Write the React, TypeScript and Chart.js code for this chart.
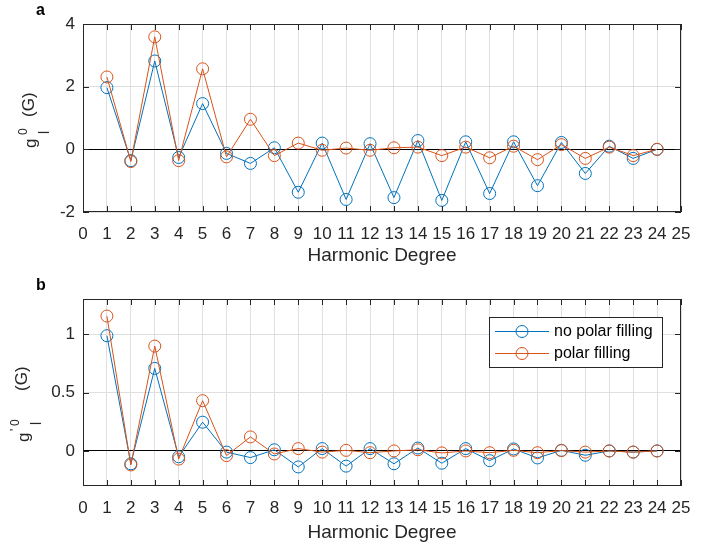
import React, { useEffect, useRef } from "react";
import { Chart, registerables } from "chart.js";

Chart.register(...registerables);

// ---------------- data ----------------
const degrees = [1, 2, 3, 4, 5, 6, 7, 8, 9, 10, 11, 12, 13, 14, 15, 16, 17, 18, 19, 20, 21, 22, 23, 24];

const seriesLabels = ["no polar filling", "polar filling"];

// panel a: g_l^0 (G)
const aNoPolar = [1.97, -0.36, 2.82, -0.26, 1.46, -0.13, -0.45, 0.05, -1.37, 0.2, -1.6, 0.18, -1.54, 0.28, -1.63, 0.24, -1.41, 0.24, -1.16, 0.22, -0.77, 0.1, -0.29, 0.0];
const aPolar = [2.31, -0.39, 3.59, -0.36, 2.57, -0.24, 0.96, -0.2, 0.2, -0.03, 0.04, -0.03, 0.05, 0.07, -0.2, 0.07, -0.27, 0.1, -0.33, 0.15, -0.29, 0.07, -0.2, 0.0];

// panel b: g'_l^0 (G)
const bNoPolar = [0.986, -0.11, 0.706, -0.05, 0.246, -0.01, -0.057, 0.01, -0.137, 0.02, -0.13, 0.02, -0.11, 0.025, -0.105, 0.02, -0.083, 0.017, -0.06, 0.005, -0.037, 0.0, -0.01, 0.0];
const bPolar = [1.154, -0.12, 0.897, -0.07, 0.43, -0.04, 0.12, -0.026, 0.02, -0.01, 0.005, -0.015, 0.0, 0.01, -0.017, 0.0, -0.015, 0.005, -0.015, 0.003, -0.01, 0.0, -0.01, 0.0];

const xRange = [0, 25];
const aYRange = [-2, 4];
const aYStep = 2;
const bYRange = [-0.3, 1.3];
const bYStep = 0.5;

const xTitle = "Harmonic Degree";
const panelLabels = ["a", "b"];

// ---------------- styles ----------------
const BLUE = "#0072BD";
const ORANGE = "#D95319";
const AXIS = "#262626";
const GRID = "#dfdfdf";
const FONT = "'Liberation Sans', Arial, Helvetica, sans-serif";

type Part = { text: string; size: number; offset: number; base: number };

function makeFramePlugin(cfg: {
  panel: string;
  titleParts: Part[];
  titleStartY: number;
  legend: boolean;
}) {
  return {
    id: "frame" + cfg.panel,
    afterDraw(chart: any) {
      const { ctx, chartArea } = chart;
      const { left, right, top, bottom } = chartArea;
      const xs = chart.scales.x;
      const ys = chart.scales.y;
      const TL = 6;
      ctx.save();
      ctx.strokeStyle = AXIS;
      ctx.lineWidth = 1;
      ctx.beginPath();
      xs.ticks.forEach((t: any) => {
        const px = Math.round(xs.getPixelForValue(t.value)) + 0.5;
        ctx.moveTo(px, bottom);
        ctx.lineTo(px, bottom - TL);
        ctx.moveTo(px, top);
        ctx.lineTo(px, top + TL);
      });
      ys.ticks.forEach((t: any) => {
        const py = Math.round(ys.getPixelForValue(t.value)) + 0.5;
        ctx.moveTo(left, py);
        ctx.lineTo(left + TL, py);
        ctx.moveTo(right, py);
        ctx.lineTo(right - TL, py);
      });
      ctx.stroke();
      ctx.strokeRect(Math.round(left) + 0.5, Math.round(top) + 0.5, Math.round(right - left) - 1, Math.round(bottom - top) - 1);

      // y-axis title with super/subscripts
      ctx.fillStyle = AXIS;
      ctx.textAlign = "left";
      ctx.textBaseline = "alphabetic";
      cfg.titleParts.forEach((p) => {
        ctx.save();
        ctx.translate(p.base, cfg.titleStartY - p.offset);
        ctx.rotate(-Math.PI / 2);
        ctx.font = `${p.size}px ${FONT}`;
        ctx.fillText(p.text, 0, 0);
        ctx.restore();
      });

      // panel label
      ctx.font = `bold 16px ${FONT}`;
      ctx.fillStyle = "#000";
      ctx.fillText(cfg.panel, 36, top - 9);

      // legend
      if (cfg.legend) {
        const bw = 173;
        const bh = 50;
        const bx = Math.round(right) - 19 - bw;
        const by = Math.round(top) + 18;
        ctx.fillStyle = "#fff";
        ctx.fillRect(bx, by, bw, bh);
        ctx.strokeStyle = AXIS;
        ctx.strokeRect(bx + 0.5, by + 0.5, bw, bh);
        const rows = [by + 14.5, by + 36.5];
        chart.data.datasets.forEach((ds: any, i: number) => {
          const ry = rows[i];
          ctx.strokeStyle = ds.borderColor;
          ctx.lineWidth = 1;
          ctx.beginPath();
          ctx.moveTo(bx + 6, ry);
          ctx.lineTo(bx + 60, ry);
          ctx.stroke();
          ctx.beginPath();
          ctx.arc(bx + 33, ry, 6, 0, Math.PI * 2);
          ctx.stroke();
          ctx.fillStyle = "#000";
          ctx.font = `16px ${FONT}`;
          ctx.textBaseline = "middle";
          ctx.fillText(ds.label, bx + 65, ry);
        });
      }
      ctx.restore();
    },
  };
}

function makeConfig(o: {
  noPolar: number[];
  polar: number[];
  yRange: number[];
  yStep: number;
  padTop: number;
  xAxisH: number;
  plugin: any;
}) {
  const tickFont = { family: FONT, size: 17 };
  const mk = (label: string, vals: number[], color: string, order: number) => ({
    label,
    data: degrees.map((d, i) => ({ x: d, y: vals[i] })),
    borderColor: color,
    backgroundColor: "rgba(0,0,0,0)",
    borderWidth: 1,
    pointRadius: 6,
    pointBorderWidth: 1,
    pointBackgroundColor: "rgba(0,0,0,0)",
    pointBorderColor: color,
    tension: 0,
    order,
  });
  return {
    type: "line",
    data: {
      datasets: [mk(seriesLabels[0], o.noPolar, BLUE, 1), mk(seriesLabels[1], o.polar, ORANGE, 0)],
    },
    options: {
      responsive: false,
      animation: false,
      events: [],
      devicePixelRatio: 1,
      layout: { padding: { top: o.padTop, right: 32, left: 0, bottom: 0 } },
      plugins: { legend: { display: false }, tooltip: { enabled: false }, title: { display: false } },
      scales: {
        x: {
          type: "linear",
          min: xRange[0],
          max: xRange[1],
          ticks: { stepSize: 1, autoSkip: false, maxRotation: 0, maxTicksLimit: 40, padding: 12, font: tickFont, color: AXIS },
          grid: { color: GRID, drawTicks: false, lineWidth: 1 },
          border: { display: false },
          title: { display: true, text: xTitle, font: { family: FONT, size: 19 }, color: AXIS, padding: { top: 0, bottom: 3 } },
          afterFit: (s: any) => {
            s.height = o.xAxisH;
          },
        },
        y: {
          type: "linear",
          min: o.yRange[0],
          max: o.yRange[1],
          ticks: {
            stepSize: o.yStep,
            includeBounds: false,
            padding: 8,
            font: tickFont,
            color: AXIS,
            callback: (v: any) => String(Math.round(Number(v) * 1000) / 1000),
          },
          grid: {
            color: (c: any) => (c.tick && Math.abs(c.tick.value) < 1e-9 ? "#000" : GRID),
            drawTicks: false,
            lineWidth: 1,
          },
          border: { display: false },
          afterFit: (s: any) => {
            s.width = 83;
          },
        },
      },
    },
    plugins: [o.plugin],
  };
}

function Panel(props: { config: any; width: number; height: number; top: number }) {
  const ref = useRef<HTMLCanvasElement>(null);
  useEffect(() => {
    if (!ref.current) return;
    const chart = new Chart(ref.current, props.config);
    return () => chart.destroy();
  }, []);
  return (
    <canvas
      ref={ref}
      width={props.width}
      height={props.height}
      style={{ position: "absolute", left: 0, top: props.top, width: props.width, height: props.height, display: "block" }}
    />
  );
}

export default function App() {
  const cfgA = makeConfig({
    noPolar: aNoPolar,
    polar: aPolar,
    yRange: aYRange,
    yStep: aYStep,
    padTop: 24,
    xAxisH: 58,
    plugin: makeFramePlugin({
      panel: panelLabels[0],
      titleStartY: 148,
      legend: false,
      titleParts: [
        { text: "g", size: 17, offset: 0, base: 36 },
        { text: "0", size: 12, offset: 13, base: 27 },
        { text: "l", size: 14, offset: 14, base: 49 },
        { text: "(G)", size: 17, offset: 31, base: 34 },
      ],
    }),
  });
  const cfgB = makeConfig({
    noPolar: bNoPolar,
    polar: bPolar,
    yRange: bYRange,
    yStep: bYStep,
    padTop: 29,
    xAxisH: 61,
    plugin: makeFramePlugin({
      panel: panelLabels[1],
      titleStartY: 172,
      legend: true,
      titleParts: [
        { text: "g", size: 17, offset: 0, base: 29 },
        { text: "'", size: 12, offset: 11, base: 19 },
        { text: "0", size: 12, offset: 16, base: 19 },
        { text: "l", size: 14, offset: 17, base: 41 },
        { text: "(G)", size: 17, offset: 51, base: 27 },
      ],
    }),
  });
  return (
    <div style={{ position: "absolute", left: 0, top: 0, width: 713, height: 547 }}>
      <Panel config={cfgA} width={713} height={270} top={0} />
      <Panel config={cfgB} width={713} height={277} top={270} />
    </div>
  );
}
